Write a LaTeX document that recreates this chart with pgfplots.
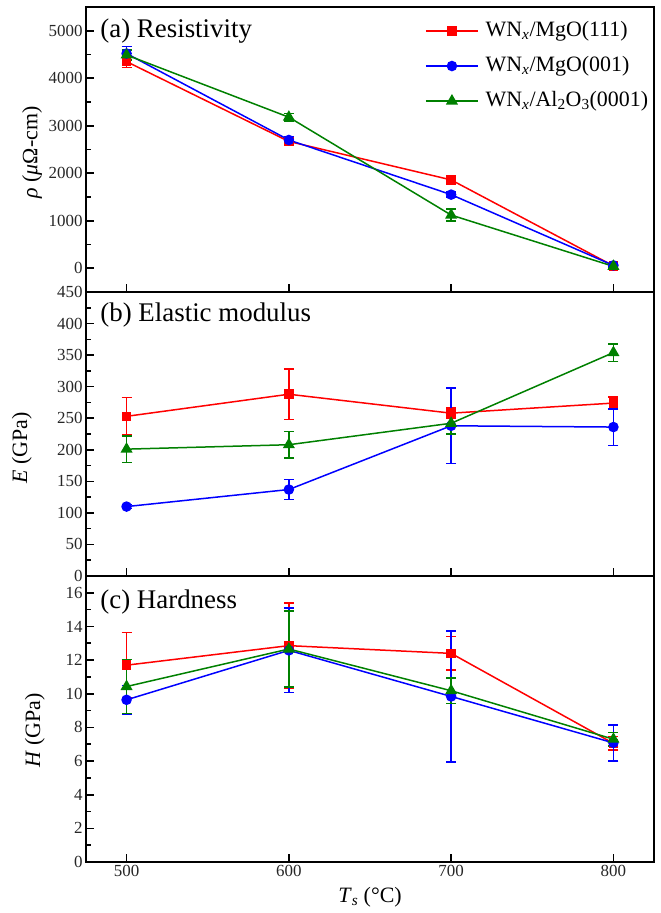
\documentclass[border=0pt]{standalone}
\usepackage{fontspec}
\setmainfont{Liberation Serif}
\usepackage{pgfplots}
\pgfplotsset{compat=1.18}

\definecolor{cred}{RGB}{255,0,0}
\definecolor{cblue}{RGB}{0,0,255}
\definecolor{cgreen}{RGB}{0,128,0}

\tikzset{plabel/.style={anchor=west, inner sep=0pt, font=\fontsize{27}{30}\selectfont}}

\pgfplotsset{
  panel/.style={
    scale only axis, width=568bp,
    xmin=475, xmax=825, xtick={500,600,700,800},
    axis line style={line width=2.2bp},
    tick align=inside, xtick pos=bottom, ytick pos=left,
    major tick length=8bp, minor tick length=5bp,
    tick style={black, line width=1.6bp},
    tick label style={font=\fontsize{17}{20}\selectfont, text=black!85},
    /pgf/number format/assume math mode=true,
    /pgf/number format/1000 sep={},
    label style={font=\fontsize{22}{26}\selectfont},
    clip=false,
  },
  ser/.style={line width=1.5bp,
    error bars/y dir=both, error bars/y explicit,
    error bars/error bar style={line width=1.6bp, color=#1},
    error bars/error mark options={rotate=90, mark size=5bp, line width=1.6bp, color=#1}},
  sred/.style={ser=cred, color=cred, mark=square*, mark size=4bp},
  sblue/.style={ser=cblue, color=cblue, mark=*, mark size=4.5bp},
  sgreen/.style={ser=cgreen, color=cgreen, mark=triangle*, mark size=5.5bp},
}

\begin{document}
\begin{tikzpicture}

% (c) hardness
\begin{axis}[panel, name=c, at={(0,0)}, anchor=south west, height=286bp,
    ymin=0, ymax=17, ytick={0,2,...,16}, minor y tick num=1,
    xlabel={\textit{T}\textsubscript{\textit{s}} (°C)},
    xlabel style={at={(axis description cs:0.5,0)}, yshift=-35bp, anchor=center},
    ylabel={\textit{H} (GPa)},
    ylabel style={at={(axis description cs:-0.09,0.46)}, anchor=center}]
\addplot[sred] coordinates {(500,11.7) +- (0,1.95) (600,12.86) +- (0,2.55) (700,12.4) +- (0,1.0) (800,7.05) +- (0,0.4)};
\addplot[sblue] coordinates {(500,9.64) +- (0,0.85) (600,12.58) +- (0,2.5) (700,9.84) +- (0,3.9) (800,7.08) +- (0,1.07)};
\addplot[sgreen] coordinates {(500,10.43) +- (0,1.6) (600,12.66) +- (0,2.25) (700,10.18) +- (0,0.75) (800,7.3) +- (0,0.4)};
\node[plabel] at (axis description cs:0.025,0.91) {(c) Hardness};
\end{axis}

% (b) elastic modulus
\begin{axis}[panel, name=b, at={(c.north west)}, anchor=south west, height=284bp,
    ymin=0, ymax=450, ytick={0,50,...,450}, minor y tick num=1,
    xticklabels={},
    ylabel={\textit{E} (GPa)},
    ylabel style={at={(axis description cs:-0.113,0.45)}, anchor=center}]
\addplot[sred] coordinates {(500,253) +- (0,30) (600,288) +- (0,40) (700,258) +- (0,8) (800,274) +- (0,10)};
\addplot[sblue] coordinates {(500,110) +- (0,3) (600,137) +- (0,16) (700,238) +- (0,60) (800,236) +- (0,29)};
\addplot[sgreen] coordinates {(500,201) +- (0,21) (600,208) +- (0,21) (700,242) +- (0,17) (800,354) +- (0,14)};
\node[plabel] at (axis description cs:0.025,0.92) {(b) Elastic modulus};
\end{axis}

% (a) resistivity
\begin{axis}[panel, name=a, at={(b.north west)}, anchor=south west, height=285bp,
    ymin=-500, ymax=5500, ytick={0,1000,...,5000}, minor y tick num=1,
    xticklabels={},
    ylabel={\textit{ρ} (\textit{μ}Ω-cm)},
    ylabel style={at={(axis description cs:-0.095,0.49)}, anchor=center},
    legend style={draw=none, fill=none, at={(axis description cs:0.99,0.955)}, anchor=north east,
      inner sep=0bp, row sep=13bp,
      nodes={inner sep=0bp, text height=16bp, text depth=6bp},
      column sep=7bp,
      font=\fontsize{22}{24}\selectfont},
    legend cell align=left,
    legend image code/.code={
      \draw[mark repeat=2, mark phase=2] plot coordinates {(0bp,0bp) (26bp,0bp) (52bp,0bp)};}]
\addplot[sred] coordinates {(500,4350) +- (0,120) (600,2670) +- (0,60) (700,1860) +- (0,50) (800,50) +- (0,40)};
\addplot[sblue] coordinates {(500,4520) +- (0,150) (600,2700) +- (0,60) (700,1550) +- (0,50) (800,60) +- (0,40)};
\addplot[sgreen] coordinates {(500,4490) +- (0,100) (600,3180) +- (0,80) (700,1120) +- (0,130) (800,40) +- (0,60)};
\legend{WN\textsubscript{\textit{x}}/MgO(111), WN\textsubscript{\textit{x}}/MgO(001), WN\textsubscript{\textit{x}}/Al\textsubscript{2}O\textsubscript{3}(0001)}
\node[plabel] at (axis description cs:0.025,0.915) {(a) Resistivity};
\end{axis}

\pgfresetboundingbox
\path[use as bounding box] (-86bp,-51bp) rectangle (575bp,862bp);
\end{tikzpicture}
\end{document}
